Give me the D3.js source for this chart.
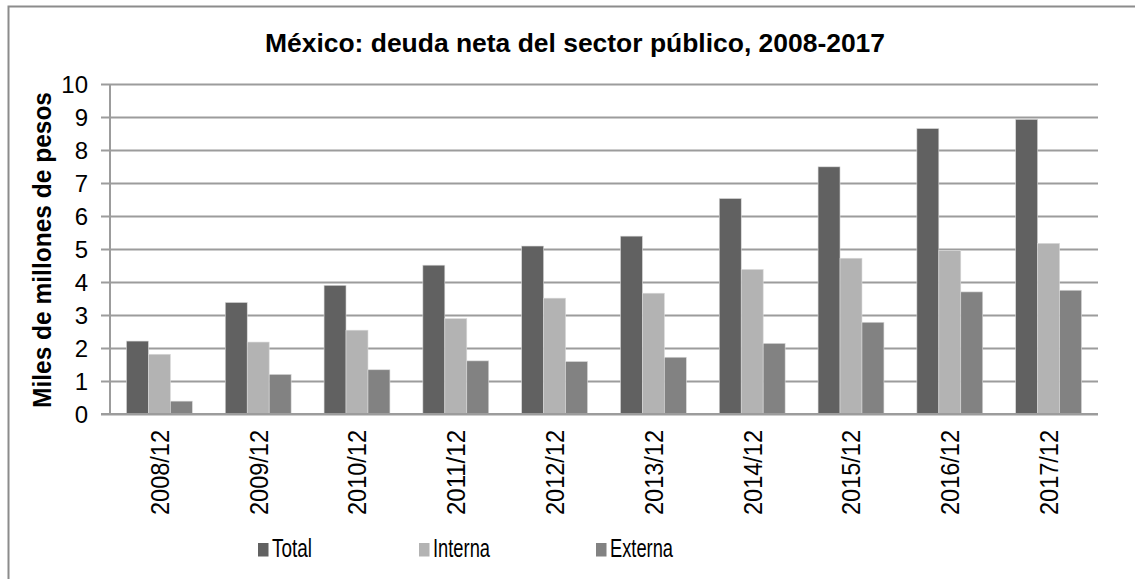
<!DOCTYPE html>
<html>
<head>
<meta charset="utf-8">
<script src="https://cdn.jsdelivr.net/npm/d3@7"></script>
<style>
  html, body { margin: 0; padding: 0; background: #fff; }
  svg { display: block; font-family: Arial, "Liberation Sans", Helvetica, sans-serif; }
</style>
</head>
<body>
<svg id="chart" width="1135" height="579"></svg>
<script>
// Deuda neta del sector público (miles de millones de pesos)
const categories = ["2008/12", "2009/12", "2010/12", "2011/12", "2012/12",
                    "2013/12", "2014/12", "2015/12", "2016/12", "2017/12"];
const seriesNames = ["Total", "Interna", "Externa"];
const total   = [2.21, 3.38, 3.90, 4.51, 5.09, 5.39, 6.53, 7.49, 8.65, 8.93];
const interna = [1.81, 2.18, 2.54, 2.89, 3.51, 3.66, 4.38, 4.72, 4.95, 5.17];
const externa = [0.39, 1.20, 1.34, 1.61, 1.59, 1.72, 2.14, 2.78, 3.70, 3.75];
const yTicks  = [0, 1, 2, 3, 4, 5, 6, 7, 8, 9, 10];
const colors  = ["#616161", "#b3b3b3", "#828282"];

const values = [total, interna, externa];
const rows = categories.map((c, i) => ({
  cat: c,
  vals: seriesNames.map((s, j) => ({ key: s, value: values[j][i] }))
}));

const svg = d3.select("#chart");

// Outer frame
svg.append("rect")
  .attr("x", 8.5).attr("y", 6.5)
  .attr("width", 1140).attr("height", 590)
  .attr("fill", "none").attr("stroke", "#8c8c8c").attr("stroke-width", 2);

const plot = { left: 110, right: 1098, top: 84, bottom: 414 };

// Each category: three bars plus a gap of 1.5 bar widths
const x0 = d3.scaleBand()
  .domain(categories)
  .range([plot.left, plot.right])
  .padding(0);
const step = x0.bandwidth();
const barW = step / 4.5;
const x1 = d3.scaleBand()
  .domain(seriesNames)
  .range([0.75 * barW, 3.75 * barW])
  .padding(0);

const y = d3.scaleLinear().domain([0, 10]).range([plot.bottom, plot.top]);

// Horizontal gridlines with outside tick marks
const yAxis = d3.axisLeft(y)
  .tickValues(yTicks)
  .tickSize(-(plot.right - plot.left))
  .tickPadding(0)
  .tickFormat("");
const gy = svg.append("g")
  .attr("transform", `translate(${plot.left},0)`)
  .call(yAxis);
gy.select(".domain").remove();
gy.selectAll(".tick line")
  .attr("x1", -9)
  .attr("stroke", "#9c9c9c").attr("stroke-width", 2);

// Tick labels
svg.append("g").selectAll("text")
  .data(yTicks).join("text")
  .attr("x", 88)
  .attr("y", d => y(d))
  .attr("dy", "0.36em")
  .attr("text-anchor", "end")
  .attr("font-size", 24)
  .attr("fill", "#000")
  .text(d => d);

// Vertical axis line
svg.append("line")
  .attr("x1", plot.left).attr("x2", plot.left)
  .attr("y1", plot.top).attr("y2", plot.bottom)
  .attr("stroke", "#9c9c9c").attr("stroke-width", 2);

// Bars
const groups = svg.append("g").selectAll("g")
  .data(rows).join("g")
  .attr("transform", d => `translate(${x0(d.cat)},0)`);
groups.selectAll("rect")
  .data(d => d.vals).join("rect")
  .attr("x", d => x1(d.key))
  .attr("width", x1.bandwidth())
  .attr("y", d => y(d.value))
  .attr("height", d => y(0) - y(d.value))
  .attr("fill", (d, i) => colors[i])
  .attr("stroke", "#d9d9d9").attr("stroke-width", 0.6);

// Baseline
svg.append("line")
  .attr("x1", plot.left - 9).attr("x2", plot.right)
  .attr("y1", plot.bottom).attr("y2", plot.bottom)
  .attr("stroke", "#9c9c9c").attr("stroke-width", 2);

// Category labels, rotated
svg.append("g").selectAll("text")
  .data(categories).join("text")
  .attr("transform", d => `translate(${x0(d) + step / 2},430) rotate(-90)`)
  .attr("text-anchor", "end")
  .attr("dy", "0.36em")
  .attr("font-size", 26)
  .attr("textLength", 85)
  .attr("lengthAdjust", "spacingAndGlyphs")
  .attr("fill", "#000")
  .text(d => d);

// Title
svg.append("text")
  .attr("x", 575).attr("y", 52)
  .attr("text-anchor", "middle")
  .attr("font-size", 25.5)
  .attr("font-weight", "bold")
  .attr("textLength", 620)
  .attr("lengthAdjust", "spacingAndGlyphs")
  .attr("fill", "#000")
  .text("México: deuda neta del sector público, 2008-2017");

// Y axis title
svg.append("text")
  .attr("transform", "translate(42,250) rotate(-90)")
  .attr("text-anchor", "middle")
  .attr("dy", "0.36em")
  .attr("font-size", 25)
  .attr("font-weight", "bold")
  .attr("textLength", 316)
  .attr("lengthAdjust", "spacingAndGlyphs")
  .attr("fill", "#000")
  .text("Miles de millones de pesos");

// Legend
const legendX = [258, 419, 596];
const legendW = [40, 57, 63];
const legend = svg.append("g").selectAll("g")
  .data(seriesNames).join("g")
  .attr("transform", (d, i) => `translate(${legendX[i]},0)`);
legend.append("rect")
  .attr("x", 0).attr("y", 543)
  .attr("width", 10.5).attr("height", 13.5)
  .attr("fill", (d, i) => colors[i]);
legend.append("text")
  .attr("x", 14).attr("y", 557)
  .attr("font-size", 26)
  .attr("textLength", (d, i) => legendW[i])
  .attr("lengthAdjust", "spacingAndGlyphs")
  .attr("fill", "#000")
  .text(d => d);
</script>
</body>
</html>
